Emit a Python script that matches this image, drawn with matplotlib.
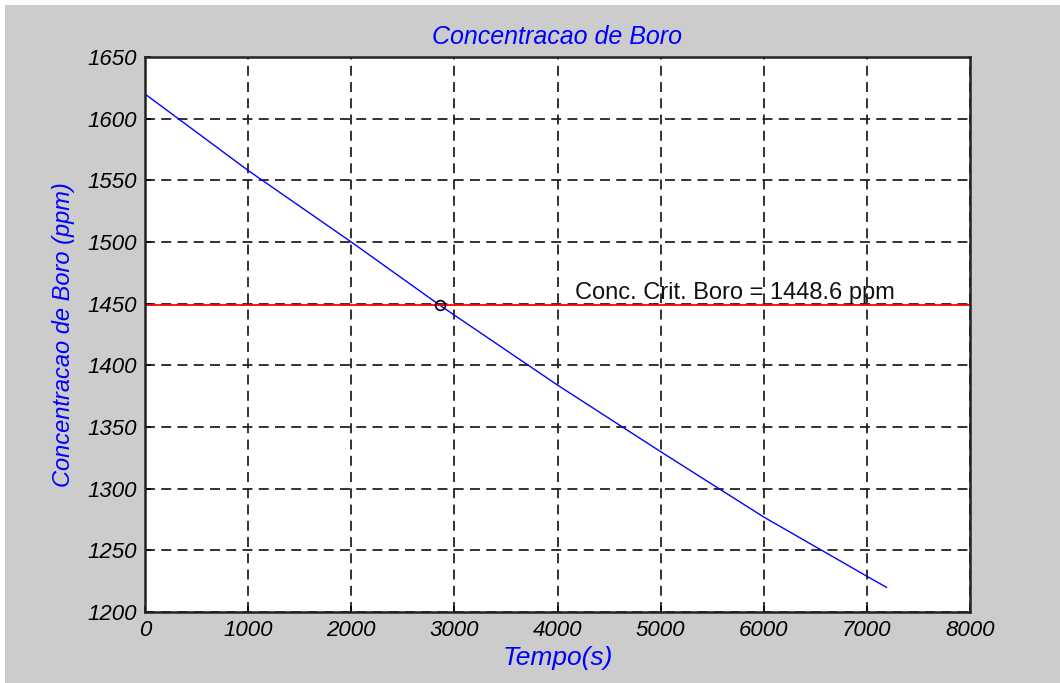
import matplotlib
matplotlib.use("Agg")
import matplotlib.pyplot as plt
from matplotlib.patches import Rectangle

# ---------- data ----------
tempo = [0, 1000, 2000, 2861, 4000, 5000, 6000, 7000, 7190]
conc = [1620, 1558, 1500, 1448.6, 1384, 1330, 1277, 1229, 1220]
conc_crit = 1448.6
t_crit = 2861
xticks = [0, 1000, 2000, 3000, 4000, 5000, 6000, 7000, 8000]
yticks = [1200, 1250, 1300, 1350, 1400, 1450, 1500, 1550, 1600, 1650]

# ---------- style ----------
plt.rc('font', family='Liberation Sans')
size = 16

fig = plt.figure(figsize=(10.6, 6.83), dpi=100, facecolor='white')
# grey panel, leaves a thin white strip top and left
fig.patches.append(Rectangle((5 / 1060, 0), 1, 1 - 5 / 683,
                             transform=fig.transFigure, facecolor='#cccccc',
                             edgecolor='none', zorder=-10))

ax = fig.add_axes([145 / 1060, 1 - 612 / 683, 825 / 1060, 555 / 683])
ax.set_facecolor('white')

ax.plot(tempo, conc, color='#0000ff', linewidth=1.0)
ax.plot([0, 8000], [conc_crit, conc_crit], color='#ff0000', linewidth=1.3)
ax.plot([t_crit], [conc_crit], marker='o', markersize=7, markerfacecolor='none',
        markeredgecolor='black', markeredgewidth=1.2)
ax.text(4170, 1454, "Conc. Crit. Boro = 1448.6 ppm", fontsize=17, color='#111111')

ax.set_xlim(0, 8000)
ax.set_ylim(1200, 1650)
ax.set_xticks(xticks)
ax.set_yticks(yticks)
ax.set_xticklabels([str(v) for v in xticks], fontstyle='italic', fontsize=size)
ax.set_yticklabels([str(v) for v in yticks], fontstyle='italic', fontsize=size)
ax.tick_params(direction='in', length=4, width=1.2, pad=6, colors='black')

ax.grid(True, color='#222222', linestyle=(0, (5.5, 3.5)), linewidth=1.3)

for sp in ax.spines.values():
    sp.set_linewidth(1.8)
    sp.set_color('#222222')

ax.set_title("Concentracao de Boro", color='#0000ff', fontstyle='italic',
             fontsize=18, pad=9)
ax.set_xlabel("Tempo(s)", color='#0000ff', fontstyle='italic', fontsize=19,
              labelpad=3)
ax.set_ylabel("Concentracao de Boro (ppm)", color='#0000ff', fontstyle='italic',
              fontsize=17, labelpad=9)

fig.savefig("out.png", dpi=100, facecolor=fig.get_facecolor())
